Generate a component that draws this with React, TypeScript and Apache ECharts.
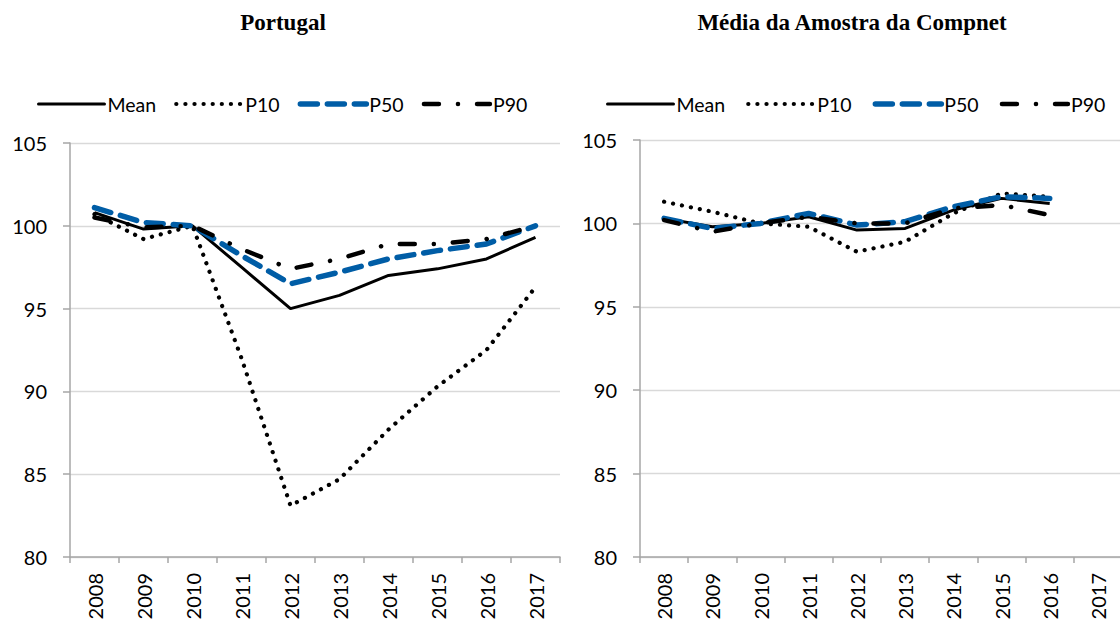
import React, { useEffect, useRef } from "react";
import * as echarts from "echarts";

const years = ["2008", "2009", "2010", "2011", "2012", "2013", "2014", "2015", "2016", "2017"];
const seriesNames = ["Mean", "P10", "P50", "P90"];
const yTicks = { min: 80, max: 105, interval: 5 };

// Portugal
const ptMean = [100.8, 99.8, 100.0, 97.5, 95.0, 95.8, 97.0, 97.4, 98.0, 99.3];
const ptP10 = [100.7, 99.2, 100.0, 92.0, 83.1, 84.7, 87.7, 90.3, 92.5, 96.3];
const ptP50 = [101.1, 100.2, 100.0, 98.2, 96.5, 97.2, 98.0, 98.5, 98.9, 100.0];
const ptP90 = [100.5, 99.9, 100.0, 98.6, 97.4, 98.0, 98.9, 98.9, 99.2, 100.0];

// Média da Amostra da Compnet
const cnMean = [100.3, 99.8, 100.0, 100.4, 99.6, 99.7, 100.8, 101.5, 101.2, null];
const cnP10 = [101.3, 100.7, 100.0, 99.8, 98.3, 98.9, 100.6, 101.8, 101.6, null];
const cnP50 = [100.3, 99.7, 100.0, 100.6, 99.9, 100.1, 101.0, 101.6, 101.5, null];
const cnP90 = [100.2, 99.5, 100.0, 100.4, 100.0, 100.0, 100.9, 101.1, 100.5, null];

const BLUE = "#005DA6";
const FONT = "Lato";

const styles: Record<string, any> = {
  Mean: { color: "#000", width: 3, type: "solid" },
  P10: { color: "#000", width: 4.2, type: [0.1, 9], cap: "round" },
  P50: { color: BLUE, width: 5.5, type: [17, 10], cap: "round" },
  P90: { color: "#000", width: 4.5, type: [15, 19, 0.1, 19], cap: "round" },
};

function mk(name: string, data: (number | null)[], idx: number) {
  const ls = styles[name];
  return {
    type: "line",
    name,
    data,
    xAxisIndex: idx,
    yAxisIndex: idx,
    symbol: "none",
    showSymbol: false,
    itemStyle: { color: ls.color },
    lineStyle: { ...ls },
    connectNulls: false,
  };
}

function xAxis(idx: number) {
  return {
    type: "category",
    gridIndex: idx,
    data: years,
    boundaryGap: true,
    axisLine: { show: true, lineStyle: { color: "#a6a6a6", width: 1.5 } },
    axisTick: { show: true, length: 6, lineStyle: { color: "#a6a6a6", width: 1.5 } },
    axisLabel: { rotate: 90, fontFamily: FONT, fontSize: 20, color: "#000", margin: 16 },
    splitLine: { show: false },
  };
}

function yAxis(idx: number) {
  return {
    type: "value",
    gridIndex: idx,
    min: yTicks.min,
    max: yTicks.max,
    interval: yTicks.interval,
    axisLine: { show: true, lineStyle: { color: "#a6a6a6", width: 1.5 } },
    axisTick: { show: true, length: 7, lineStyle: { color: "#a6a6a6", width: 1.5 } },
    axisLabel: { fontFamily: FONT, fontSize: 20, color: "#000", margin: 23 },
    splitLine: { show: true, lineStyle: { color: "#d9d9d9", width: 1.3 } },
  };
}

function legend(left: number, gap: number) {
  return {
    left,
    top: 89,
    orient: "horizontal",
    itemWidth: 66,
    itemHeight: 14,
    itemGap: gap,
    itemStyle: { opacity: 0, borderWidth: 0 },
    lineStyle: { width: "inherit", type: "inherit", cap: "round" },
    textStyle: { fontFamily: FONT, fontSize: 19.5, color: "#000", padding: [0, 0, 0, -2] },
    data: seriesNames,
    selectedMode: false,
  };
}

export default function App() {
  const ref = useRef<HTMLDivElement>(null);
  useEffect(() => {
    if (!ref.current) return;
    const chart = echarts.init(ref.current, undefined, { renderer: "svg" });
    const option: any = {
      animation: false,
      backgroundColor: "#fff",
      graphic: [
        {
          type: "text",
          x: 283,
          y: 22,
          style: {
            text: "Portugal",
            font: 'bold 23px "Liberation Serif"',
            textAlign: "center",
            textVerticalAlign: "middle",
            fill: "#000",
          },
        },
        {
          type: "text",
          x: 852,
          y: 22,
          style: {
            text: "Média da Amostra da Compnet",
            font: 'bold 23px "Liberation Serif"',
            textAlign: "center",
            textVerticalAlign: "middle",
            fill: "#000",
          },
        },
      ],
      legend: [legend(32, 18), legend(601, 21)],
      grid: [
        { left: 70, top: 143, width: 490, height: 414, outerBoundsMode: "none" },
        { left: 640, top: 140, width: 482, height: 417, outerBoundsMode: "none" },
      ],
      xAxis: [xAxis(0), xAxis(1)],
      yAxis: [yAxis(0), yAxis(1)],
      series: [
        mk("Mean", ptMean, 0),
        mk("P10", ptP10, 0),
        mk("P50", ptP50, 0),
        mk("P90", ptP90, 0),
        mk("Mean", cnMean, 1),
        mk("P10", cnP10, 1),
        mk("P50", cnP50, 1),
        mk("P90", cnP90, 1),
      ],
    };
    chart.setOption(option);
    return () => chart.dispose();
  }, []);
  return (
    <div
      ref={ref}
      style={{ position: "absolute", left: 0, top: 0, width: 1120, height: 623, background: "#fff" }}
    />
  );
}
